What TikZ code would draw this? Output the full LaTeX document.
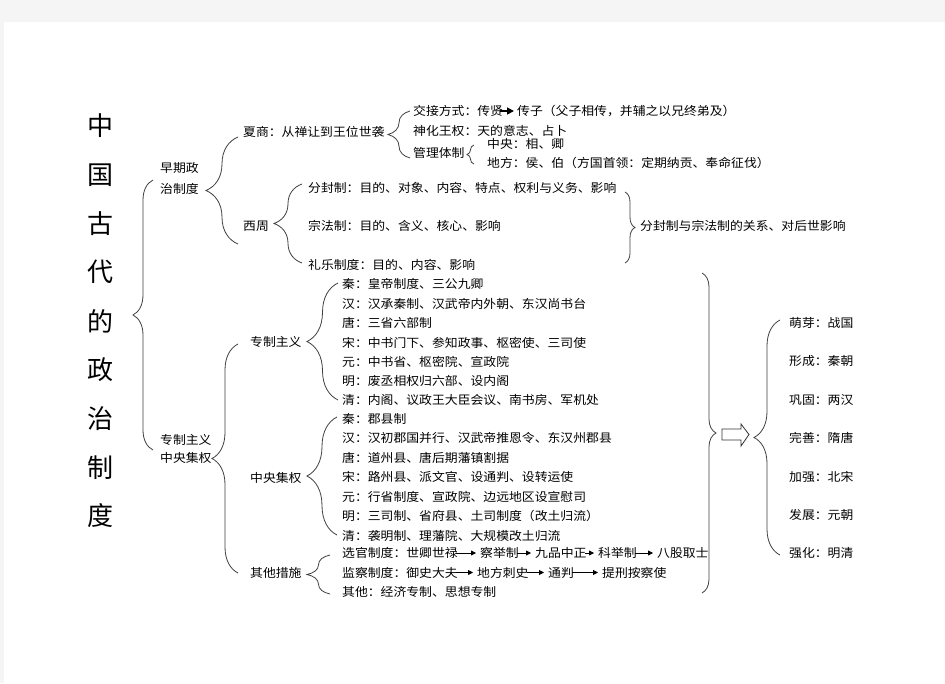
\documentclass[tikz,border=0pt]{standalone}
\usepackage{fontspec}
\setmainfont{Noto Sans CJK SC}[FakeStretch=1.07]
\newfontfamily\ttlfont{Noto Sans CJK SC}
\usepackage{tikz}
\usetikzlibrary{calc,positioning,arrows.meta,decorations.pathreplacing}

\tikzset{
  txt/.style={anchor=west,inner sep=0pt,font=\fontsize{12}{15}\selectfont},
  ttl/.style={inner sep=0pt,font=\ttlfont\fontsize{26}{30}\selectfont},
  brc/.style={draw=black!75,line width=0.8pt,decorate,decoration={brace,amplitude=#1}},
  inarr/.style={-{Triangle[length=5pt,width=5pt]},line width=0.8pt,shorten <=-2pt,shorten >=4pt},
}

\begin{document}
\begin{tikzpicture}[x=1pt,y=-1pt]
				%page
				\fill[black!4] (0,0) rectangle (945,683);
				\fill[white] (4,22) rectangle (945,683);
				\useasboundingbox (0,0) rectangle (945,683);

				%title
				\foreach \c [count=\i] in {中,国,古,代,的,政,治,制,度}
					\node[ttl] (t\i) at (100,{126+48.75*(\i-1)}) {\c};

				%first level
				\node[txt] (zq1) at (160,168) {早期政};
				\node[txt] (zq2) at (160,189) {治制度};
				\node[txt] (zy1) at (160,440) {专制主义};
				\node[txt] (zy2) at (160,458) {中央集权};

				%early
				\node[txt] (xs) at (243,132) {夏商：从禅让到王位世袭};
				\node[txt] (xz) at (243,226) {西周};
				\node[txt] (jj1) at (413,111) {交接方式：传贤};
				\node[txt] (jj2) at (517,111) {传子（父子相传，并辅之以兄终弟及）};
				\node[txt] (sh) at (413,130.5) {神化王权：天的意志、占卜};
				\node[txt] (gl) at (413,153) {管理体制};
				\node[txt] (gl1) at (487,143.5) {中央：相、卿};
				\node[txt] (gl2) at (487,163) {地方：侯、伯（方国首领：定期纳贡、奉命征伐）};
				\node[txt] (ff) at (308,188) {分封制：目的、对象、内容、特点、权利与义务、影响};
				\node[txt] (zf) at (308,226) {宗法制：目的、含义、核心、影响};
				\node[txt] (ly) at (308,265) {礼乐制度：目的、内容、影响};
				\node[txt] (gx) at (640,226) {分封制与宗法制的关系、对后世影响};

				%centralism
				\node[txt] (zz) at (250,342) {专制主义};
				\node[txt] (jq) at (250,478) {中央集权};
				\node[txt] (qt) at (250,573) {其他措施};

				\node[txt] (zz1) at (342,284) {秦：皇帝制度、三公九卿};
				\node[txt] (zz2) at (342,303.5) {汉：汉承秦制、汉武帝内外朝、东汉尚书台};
				\node[txt] (zz3) at (342,323) {唐：三省六部制};
				\node[txt] (zz4) at (342,342.5) {宋：中书门下、参知政事、枢密使、三司使};
				\node[txt] (zz5) at (342,362) {元：中书省、枢密院、宣政院};
				\node[txt] (zz6) at (342,381) {明：废丞相权归六部、设内阁};
				\node[txt] (zz7) at (342,400) {清：内阁、议政王大臣会议、南书房、军机处};

				\node[txt] (jq1) at (342,418.5) {秦：郡县制};
				\node[txt] (jq2) at (342,438) {汉：汉初郡国并行、汉武帝推恩令、东汉州郡县};
				\node[txt] (jq3) at (342,457.5) {唐：道州县、唐后期藩镇割据};
				\node[txt] (jq4) at (342,477) {宋：路州县、派文官、设通判、设转运使};
				\node[txt] (jq5) at (342,496.5) {元：行省制度、宣政院、边远地区设宣慰司};
				\node[txt] (jq6) at (342,516) {明：三司制、省府县、土司制度（改土归流）};
				\node[txt] (jq7) at (342,535.5) {清：袭明制、理藩院、大规模改土归流};

				\node[txt] (xg1) at (342,553) {选官制度：世卿世禄};
				\node[txt] (xg2) at (480,553) {察举制};
				\node[txt] (xg3) at (535,553) {九品中正};
				\node[txt] (xg4) at (598,553) {科举制};
				\node[txt] (xg5) at (657,553) {八股取士};
				\node[txt] (jc1) at (342,572.5) {监察制度：御史大夫};
				\node[txt] (jc2) at (477,572.5) {地方刺史};
				\node[txt] (jc3) at (548,572.5) {通判};
				\node[txt] (jc4) at (602,572.5) {提刑按察使};
				\node[txt] (qt1) at (342,592) {其他：经济专制、思想专制};

				%stages
				\node[txt] (fz1) at (789,323) {萌芽：战国};
				\node[txt] (fz2) at (789,361) {形成：秦朝};
				\node[txt] (fz3) at (789,400) {巩固：两汉};
				\node[txt] (fz4) at (789,438) {完善：隋唐};
				\node[txt] (fz5) at (789,477) {加强：北宋};
				\node[txt] (fz6) at (789,515) {发展：元朝};
				\node[txt] (fz7) at (789,553) {强化：明清};

				%arrows in text
				\draw[-{Triangle[length=7pt,width=7pt]},line width=1.6pt,shorten <=-3pt,shorten >=3pt] (jj1.east) -- (jj2.west);
				\draw[inarr] (xg1.east) -- (xg2.west);
				\draw[inarr] (xg2.east) -- (xg3.west);
				\draw[inarr] (xg3.east) -- (xg4.west);
				\draw[inarr] (xg4.east) -- (xg5.west);
				\draw[inarr] (jc1.east) -- (jc2.west);
				\draw[inarr] (jc2.east) -- (jc3.west);
				\draw[inarr] (jc3.east) -- (jc4.west);

				%braces
				\draw[brc=20] (153,450) -- (153,180);
				\draw[brc=32] (238,244) -- (238,137);
				\draw[brc=22] (410,158) -- (410,111);
				\draw[brc=7] (474,164) -- (474,145);
				\draw[brc=28] (302,263) -- (302,184);
				\draw[brc=10] (625,192) -- (625,263);
				\draw[brc=26] (238,573) -- (238,344);
				\draw[brc=31] (338,400) -- (338,283);
				\draw[brc=30] (337,535) -- (337,417);
				\draw[brc=23] (330,594) -- (330,555);
				\draw[brc=14] (702,273) -- (702,593);
				\draw[brc=26] (780,555) -- (780,320);

				%hollow arrow
				\draw[black!80,line width=0.8pt] (722,429) -- (741,429) -- (741,424) -- (749,434.5) -- (741,446) -- (741,440) -- (722,440) -- cycle;
\end{tikzpicture}
\end{document}
